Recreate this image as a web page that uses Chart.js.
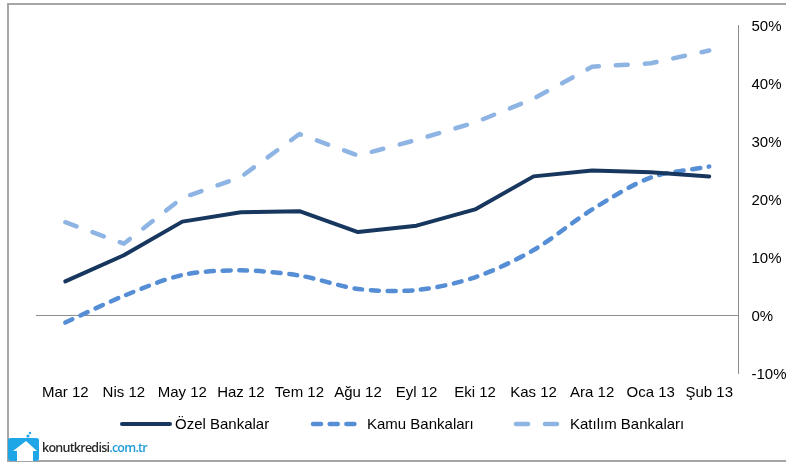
<!DOCTYPE html>
<html>
<head>
<meta charset="utf-8">
<script src="https://cdn.jsdelivr.net/npm/chart.js@4"></script>
<style>
    html, body { margin: 0; padding: 0; background: #fff; overflow: hidden; }
    #wrap { position: relative; width: 786px; height: 465px; }
    #frame { position: absolute; left: 7px; top: 3px; width: 779px; height: 459px; border-left: 2px solid #a6a6a6; border-top: 2px solid #a6a6a6; border-bottom: 2px solid #a6a6a6; box-sizing: border-box; }
    #logo { position: absolute; left: 8px; top: 431px; width: 140px; height: 30px; }
    #logoText { position: absolute; left: 34px; top: 8px; font: 600 12.5px "Open Sans", sans-serif; letter-spacing: -0.75px; color: #2b2b2b; white-space: nowrap; }
    #logoText span { color: #1f9bd8; }
</style>
</head>
<body>
<div id="wrap">
    <canvas id="chart" width="786" height="465"></canvas>
    <div id="frame"></div>
    <div id="logo">
        <svg width="32" height="30" viewBox="0 0 32 30">
            <path d="M0 9 Q0 7 3 7 L28 7 Q31 7 31 9 L31 27 Q31 30 28 30 L3 30 Q0 30 0 27 Z" fill="#1ea6e6"/>
            <path d="M18 10 L29 20 L25 20 L25 30 L9 30 L9 20 L5 20 Z" fill="#fff"/>
            <circle cx="20" cy="5" r="1.6" fill="#1ea6e6"/>
            <circle cx="22" cy="2" r="1.2" fill="#1ea6e6"/>
        </svg>
        <div id="logoText">konutkredisi<span>.com.tr</span></div>
    </div>
</div>
<script>
// Chart data
const months = ['Mar 12', 'Nis 12', 'May 12', 'Haz 12', 'Tem 12', 'Ağu 12', 'Eyl 12', 'Eki 12', 'Kas 12', 'Ara 12', 'Oca 13', 'Şub 13'];
const ozel = [5.8, 10.3, 16.1, 17.7, 17.9, 14.3, 15.4, 18.2, 23.9, 24.9, 24.6, 23.9];
const kamu = [-1.3, 3.3, 6.9, 7.7, 6.8, 4.5, 4.3, 6.5, 11.2, 18.2, 23.7, 25.6];
const katilim = [16.0, 12.3, 20.2, 23.8, 31.2, 27.5, 30.2, 33.2, 37.3, 42.8, 43.4, 45.6];

const FONT = { family: '"Liberation Sans", Arial, sans-serif', size: 15 };

// Legend drawn by hand, the gaps in the original are not even
const legendSpots = [
    { x: 122, end: 170, textX: 175 },
    { x: 313, end: 358, textX: 367 },
    { x: 516, end: 560, textX: 570 }
];
const legendPlugin = {
    id: 'sideLegend',
    afterDraw(chart) {
        const ctx = chart.ctx;
        ctx.save();
        chart.data.datasets.forEach((ds, i) => {
            const spot = legendSpots[i];
            ctx.beginPath();
            ctx.strokeStyle = ds.borderColor;
            ctx.lineWidth = ds.borderWidth;
            ctx.lineCap = 'round';
            ctx.setLineDash(ds.borderDash || []);
            ctx.moveTo(spot.x, 424);
            ctx.lineTo(spot.end, 424);
            ctx.stroke();
            ctx.setLineDash([]);
            ctx.fillStyle = '#000';
            ctx.font = FONT.size + 'px ' + FONT.family;
            ctx.textBaseline = 'middle';
            ctx.fillText(ds.label, spot.textX, 425);
        });
        ctx.restore();
    }
};

function makeLine(label, data, color, dash, tension, width) {
    return {
        label, data,
        borderColor: color,
        borderWidth: width,
        borderDash: dash,
        borderCapStyle: 'round',
        borderJoinStyle: 'round',
        pointRadius: 0,
        tension: tension,
        fill: false
    };
}

new Chart(document.getElementById('chart'), {
    type: 'line',
    plugins: [legendPlugin],
    data: {
        labels: months,
        datasets: [
            makeLine('Özel Bankalar', ozel, '#17375e', [], 0, 4),
            makeLine('Kamu Bankaları', kamu, '#558ed5', [8, 8.7], 0.3, 4.5),
            makeLine('Katılım Bankaları', katilim, '#8eb4e3', [12, 17], 0, 4.5)
        ]
    },
    options: {
        responsive: false,
        animation: false,
        layout: { padding: { left: 36, top: 25, right: 0, bottom: 0 } },
        plugins: { legend: { display: false }, tooltip: { enabled: false } },
        scales: {
            x: {
                offset: true,
                grid: { display: false, drawTicks: false },
                border: { display: false },
                ticks: { color: '#000', font: FONT, padding: 11, maxRotation: 0, autoSkip: false },
                afterFit(axis) { axis.height = 92; }
            },
            y: {
                position: 'right',
                min: -10,
                max: 50,
                border: { display: true, color: '#8c8c8c', width: 1 },
                grid: {
                    drawTicks: false,
                    color: ctx => ctx.tick.value === 0 ? '#8c8c8c' : 'transparent'
                },
                ticks: {
                    stepSize: 10,
                    color: '#000',
                    font: FONT,
                    padding: 13,
                    labelOffset: 2,
                    callback: v => v + '%'
                },
                afterFit(axis) { axis.width = 47.5; }
            }
        }
    }
});
</script>
</body>
</html>
